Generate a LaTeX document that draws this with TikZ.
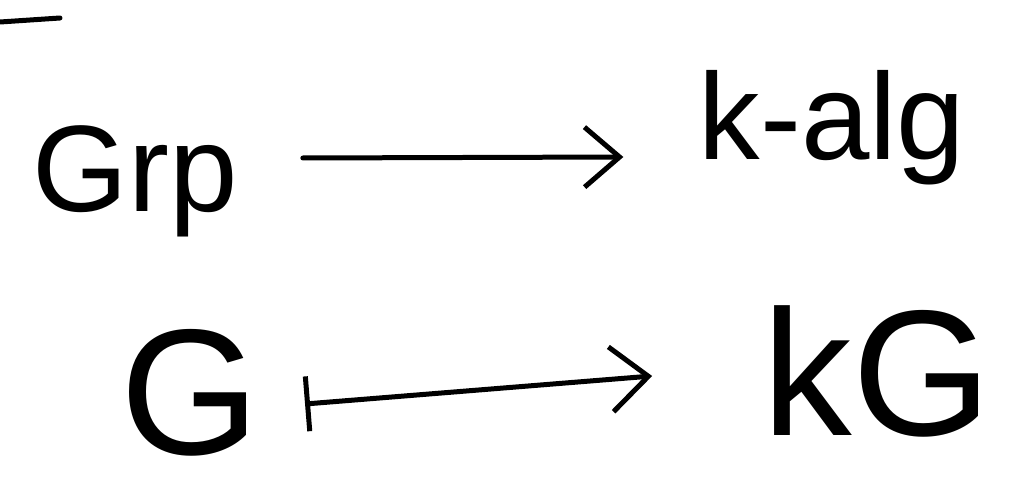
\documentclass[tikz,border=0pt]{standalone}
\usepackage{fontspec}
\setmainfont{Liberation Sans}
\usetikzlibrary{arrows.meta,calc}
\tikzset{
  lbl/.style={inner sep=0pt, anchor=base},
  topfont/.style={font=\fontsize{70}{80}\selectfont},
  botfont/.style={font=\fontsize{102}{120}\selectfont},
  stroke/.style={line width=0.1cm, line cap=round, line join=round},
  arr/.style={stroke, -{Straight Barb[length=0.7cm,width=1.2cm,line width=0.1cm]}},
  mapsarr/.style={stroke, {Bar[width=1.1cm,line width=0.1cm]}-{Straight Barb[length=0.75cm,width=1.3cm,line width=0.1cm]}}
}
\begin{document}
\begin{tikzpicture}[x=0.02cm,y=-0.02cm]
\useasboundingbox (0,0) rectangle (1025,493);
\node[lbl,topfont] (grp) at (135,212) {Grp};
\node[lbl,topfont] (kalg) at (832,160) {k-alg};
\node[lbl,botfont] (G) at (190,454) {G};
\node[lbl,botfont] (kG) at (877,436) {kG};
\coordinate (dashA) at (0,22);
\coordinate (dashB) at (60,18);
\draw[stroke] (dashA) -- (dashB);
\draw[arr] ($(grp.base east)+(65,-54)$) -- ($(kalg.base west)+(-75,-3)$);
\draw[mapsarr] ($(G.base east)+(45,-50)$) -- ($(kG.base west)+(-110,-60)$);
\end{tikzpicture}
\end{document}
